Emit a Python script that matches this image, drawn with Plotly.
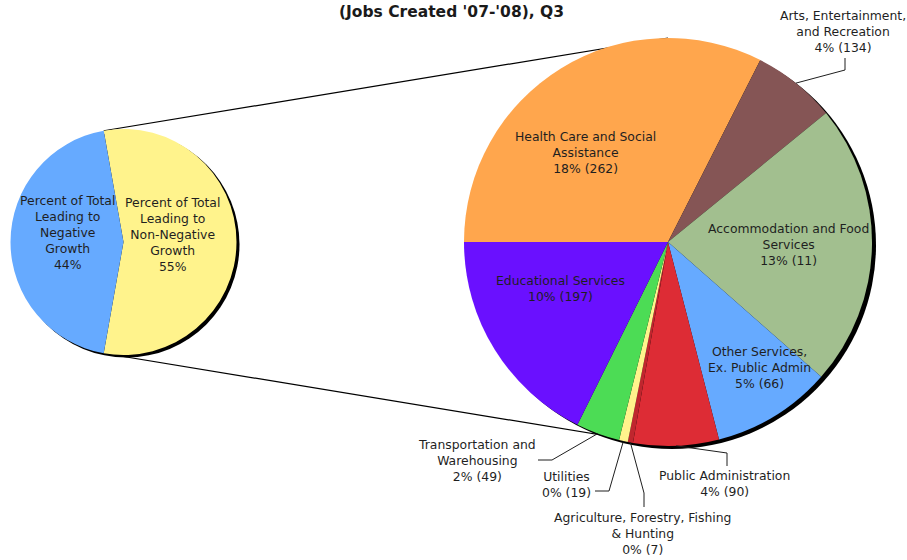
import math
import plotly.graph_objects as go

W, H = 907, 560

title_text = "(Jobs Created '07-'08), Q3"

# Primary pie (share of total)
left_labels = ["Percent of Total<br>Leading to<br>Non-Negative<br>Growth",
               "Percent of Total<br>Leading to<br>Negative<br>Growth"]
left_values = [55.6, 44.4]
left_pct_text = ["55%", "44%"]
left_colors = ["#FFF38C", "#66AAFF"]

# Secondary pie (breakdown of non-negative growth)
right_labels = ["Health Care and Social<br>Assistance",
                "Arts, Entertainment,<br>and Recreation",
                "Accommodation and Food<br>Services",
                "Other Services,<br>Ex. Public Admin",
                "Public Administration",
                "Agriculture, Forestry, Fishing<br>& Hunting",
                "Utilities",
                "Transportation and<br>Warehousing",
                "Educational Services"]
right_values = [18.17, 3.71, 12.52, 5.31, 3.79, 0.23, 0.39, 1.94, 9.89]
right_counts = [262, 134, 11, 66, 90, 7, 19, 49, 197]
right_pct_text = ["18%", "4%", "13%", "5%", "4%", "0%", "0%", "2%", "10%"]
right_colors = ["#FFA64D", "#855555", "#A2BF8F", "#66AAFF", "#DD2C35",
                "#C0262E", "#FFF38C", "#4CDC55", "#6A10FF"]

# ---- layout geometry (pixels) ----
L_CX, L_CY, L_R = 123.5, 242, 113
R_CX, R_CY, R_R = 668, 242, 204
L_ROT = 90 - (left_values[0] / sum(left_values)) * 180
R_ROT = -90

def px(x):
    return x / W

def py(y):
    return 1 - y / H

def edge(cx, cy, r, ang):
    a = math.radians(ang)
    return cx + r * math.sin(a), cy - r * math.cos(a)

fig = go.Figure()
fig.add_trace(go.Pie(
    values=left_values, labels=["Non-Negative", "Negative"], sort=False,
    direction="clockwise", rotation=L_ROT, textinfo="none",
    marker=dict(colors=left_colors, line=dict(width=0)),
    domain=dict(x=[px(L_CX - L_R), px(L_CX + L_R)], y=[py(L_CY + L_R), py(L_CY - L_R)]),
    showlegend=False, hoverinfo="label+percent"))
fig.add_trace(go.Pie(
    values=right_values, labels=[l.replace("<br>", " ") for l in right_labels], sort=False,
    direction="clockwise", rotation=R_ROT, textinfo="none",
    marker=dict(colors=right_colors, line=dict(width=0)),
    domain=dict(x=[px(R_CX - R_R), px(R_CX + R_R)], y=[py(R_CY + R_R), py(R_CY - R_R)]),
    showlegend=False, hoverinfo="label+value"))

shapes = []
# drop shadows
for cx, cy, r, dx, dy in [(L_CX, L_CY, L_R, 3, 2.5), (R_CX, R_CY, R_R, 4, 3)]:
    shapes.append(dict(type="circle", xref="paper", yref="paper", layer="below",
                       x0=px(cx - r + dx), x1=px(cx + r + dx),
                       y0=py(cy + r + dy), y1=py(cy - r + dy),
                       fillcolor="black", line=dict(width=0)))

# connector lines between pies
a_start = L_ROT
a_end = L_ROT + 360 * left_values[0] / sum(left_values)
p_top = edge(L_CX, L_CY, L_R, a_start)
p_bot = edge(L_CX, L_CY, L_R, a_end)
for (x0, y0), (x1, y1) in [(p_top, (R_CX, R_CY - R_R)), (p_bot, (R_CX, R_CY + R_R))]:
    shapes.append(dict(type="line", xref="paper", yref="paper", layer="below",
                       x0=px(x0), y0=py(y0), x1=px(x1), y1=py(y1),
                       line=dict(color="black", width=1.2)))

# slice mid angles of secondary pie
tot = sum(right_values)
mids = []
acc = R_ROT
for v in right_values:
    ang = 360 * v / tot
    mids.append(acc + ang / 2)
    acc += ang

# leader lines: (slice index, label end, elbow)
leaders = [(1, (845, 58), (845, 70)),
           (4, (727, 466), (727, 453)),
           (5, (644, 507), (644, 493)),
           (6, (595, 491), (609, 491)),
           (7, (538, 460), (552, 460))]
for i, a, b in leaders:
    ex, ey = edge(R_CX, R_CY, R_R, mids[i])
    path = f"M {px(a[0])} {py(a[1])} L {px(b[0])} {py(b[1])} L {px(ex)} {py(ey)}"
    shapes.append(dict(type="path", xref="paper", yref="paper", path=path,
                       line=dict(color="#1F1F1F", width=1)))

FONT = "DejaVu Sans, Verdana, sans-serif"
TXT = "#1F1F1F"
annotations = []
left_pos = [(172.5, 234), (67.5, 232)]
for lab, pct, (x, y) in zip(left_labels, left_pct_text, left_pos):
    annotations.append(dict(text=f"{lab}<br>{pct}", x=px(x), y=py(y), xref="paper", yref="paper",
                            showarrow=False, xanchor="center", yanchor="middle", align="center",
                            font=dict(family=FONT, size=12.4, color=TXT)))

right_pos = [(585, 153), (843, 31), (788, 244), (759, 367), (724, 483),
             (643, 533), (566, 484), (477, 460), (560, 288)]
for lab, pct, cnt, (x, y) in zip(right_labels, right_pct_text, right_counts, right_pos):
    annotations.append(dict(text=f"{lab}<br>{pct} ({cnt})", x=px(x), y=py(y), xref="paper", yref="paper",
                            showarrow=False, xanchor="center", yanchor="middle", align="center",
                            font=dict(family=FONT, size=12.4, color=TXT)))

annotations.append(dict(text=f"<b>{title_text}</b>", x=px(451), y=py(12), xref="paper", yref="paper",
                        showarrow=False, xanchor="center", yanchor="middle",
                        font=dict(family="DejaVu Sans, Verdana, sans-serif", size=15.5, color="#1A1A1A")))

fig.update_layout(width=W, height=H, margin=dict(l=0, r=0, t=0, b=0),
                  paper_bgcolor="white", plot_bgcolor="white",
                  shapes=shapes, annotations=annotations, showlegend=False)

fig.write_html("out.html", config={"displayModeBar": False},
               post_script="document.body.style.margin='0';document.body.style.overflow='hidden';")
